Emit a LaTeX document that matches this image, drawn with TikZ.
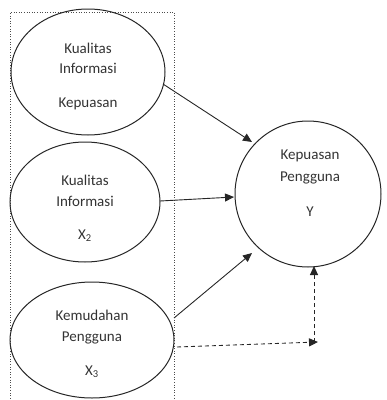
\documentclass[tikz,border=0pt]{standalone}
\usepackage{fontspec}
\setmainfont{Carlito}
\usetikzlibrary{arrows.meta}
\tikzset{
  lbl/.style={text=black!80, font=\fontsize{15}{15}\selectfont, inner sep=0pt},
  shp/.style={draw=black!85, line width=1pt},
  arr/.style={draw=black!85, line width=0.9pt, -{Triangle[length=9pt,width=8pt]}},
  darr/.style={arr, dash pattern=on 4pt off 3pt},
  frame/.style={draw=black!70, line width=0.6pt, dotted}
}
\begin{document}
\begin{tikzpicture}[x=1pt,y=-1pt]
\useasboundingbox (0,0) rectangle (387,400);
% frame
\draw[frame] (10,401) -- (10,12) -- (174,12) -- (174,401);
% ellipses
\draw[shp] (88,72) ellipse [x radius=77, y radius=63];
\draw[shp] (85,202) ellipse [x radius=75, y radius=60];
\draw[shp] (92,340) ellipse [x radius=82, y radius=58];
\draw[shp] (308,194) circle [radius=73];
% anchor coordinates
\coordinate (e1) at (163,84);
\coordinate (e2) at (160,201);
\coordinate (e3) at (174,318);
\coordinate (e3b) at (177,347);
\coordinate (y1) at (252,142);
\coordinate (y2) at (234,197);
\coordinate (y3) at (252,253);
\coordinate (yb) at (314,266);
\coordinate (corner) at (318,342);
\coordinate (cv) at (314,342);
% labels
\node[lbl] (t1a) at (88,48) {Kualitas};
\node[lbl] (t1b) at (88,68) {Informasi};
\node[lbl] (t1c) at (88,104) {Kepuasan};
\node[lbl] (t2a) at (85,180) {Kualitas};
\node[lbl] (t2b) at (85,201) {Informasi};
\node[lbl] (t2c) at (85,236) {X\textsubscript{2}};
\node[lbl] (t3a) at (92,315) {Kemudahan};
\node[lbl] (t3b) at (92,338) {Pengguna};
\node[lbl] (t3c) at (92,372) {X\textsubscript{3}};
\node[lbl] (ya) at (310,156) {Kepuasan};
\node[lbl] (yb2) at (310,178) {Pengguna};
\node[lbl] (yc) at (310,212) {Y};
% arrows
\draw[arr] (e1) -- (y1);
\draw[arr] (e2) -- (y2);
\draw[arr] (e3) -- (y3);
\draw[darr] (e3b) -- (corner);
\draw[darr] (cv) -- (yb);
\end{tikzpicture}
\end{document}
